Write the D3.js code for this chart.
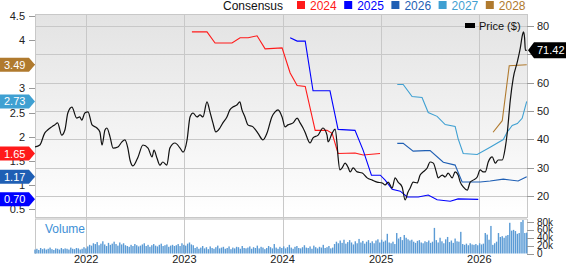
<!DOCTYPE html>
<html>
<head>
<meta charset="utf-8">
<title>EPS Consensus and Price</title>
<script src="https://d3js.org/d3.v7.min.js"></script>
<style>
  body { margin: 0; background: #fff; }
  svg { display: block; font-family: "Liberation Sans", Arial, sans-serif; }
</style>
</head>
<body>
<div id="chart"></div>
<script>
var parse = d3.timeParse("%Y-%m-%d");

// ---- data ----
var yearTicks = ["2022", "2023", "2024", "2025", "2026"];
var epsTicks = [0.5, 1, 1.5, 2, 2.5, 3, 3.5, 4, 4.5];
var priceTicks = [20, 30, 40, 50, 60, 70, 80];
var volumeTicks = [0, 20, 40, 60, 80]; // thousands

var consensusYears = ["2024", "2025", "2026", "2027", "2028"];

var eps2024 = [["2023-01-29",4.17],["2023-03-26",4.17],["2023-04-25",3.94],["2023-06-27",3.94],["2023-07-27",4.05],
  ["2023-08-26",4.05],["2023-09-28",4.09],["2023-10-28",3.82],["2023-12-30",3.84],["2024-01-29",3.32],
  ["2024-02-24",3.06],["2024-03-25",3.04],["2024-05-01",2.13],["2024-06-14",2.13],["2024-07-03",2.07],
  ["2024-07-25",1.65],["2024-09-26",1.66],["2024-10-26",1.62],["2024-12-28",1.65]];
var eps2025 = [["2024-01-29",4.05],["2024-02-24",3.98],["2024-03-25",3.98],["2024-04-23",2.95],["2024-06-25",2.95],
  ["2024-07-25",2.15],["2024-09-26",2.13],["2024-10-26",1.72],["2024-11-26",1.20],["2024-12-29",1.20],
  ["2025-01-16",1.10],["2025-02-11",0.91],["2025-03-13",0.87],["2025-04-08",0.75],["2025-05-19",0.75],
  ["2025-06-25",0.79],["2025-07-28",0.69],["2025-09-15",0.66],["2025-10-14",0.71],["2025-12-28",0.70]];
var eps2026 = [["2025-03-02",1.86],["2025-03-24",1.86],["2025-04-30",1.70],["2025-06-14",1.71],["2025-07-02",1.71],
  ["2025-08-20",1.47],["2025-10-03",1.41],["2025-10-29",1.06],["2026-01-04",1.06],["2026-02-10",1.08],
  ["2026-03-31",1.12],["2026-05-25",1.08],["2026-06-26",1.17]];
var eps2027 = [["2025-03-02",3.08],["2025-03-24",3.08],["2025-04-26",2.83],["2025-06-02",2.81],["2025-06-25",2.50],
  ["2025-07-28",2.42],["2025-08-27",2.25],["2025-10-03",2.21],["2025-10-14",1.96],["2025-11-02",1.65],
  ["2025-12-24",1.63],["2026-02-10",1.78],["2026-03-31",1.94],["2026-04-14",2.09],["2026-05-03",2.23],
  ["2026-05-22",2.27],["2026-06-09",2.38],["2026-06-26",2.73]];
var eps2028 = [["2026-02-21",2.09],["2026-03-27",2.33],["2026-04-22",3.47],["2026-06-26",3.49]];

var price = [["2021-06-25",37.3],["2021-07-13",38.0],["2021-07-31",42.2],["2021-08-11",43.3],["2021-08-26",44.4],
  ["2021-09-06",45.1],["2021-09-17",45.8],["2021-10-02",41.5],["2021-10-14",43.3],["2021-10-25",49.3],
  ["2021-11-09",51.4],["2021-11-27",47.5],["2021-12-08",47.9],["2021-12-16",46.8],["2021-12-27",49.3],
  ["2022-01-08",49.7],["2022-01-23",45.1],["2022-02-10",44.0],["2022-02-21",42.6],["2022-03-01",38.0],
  ["2022-03-12",43.3],["2022-03-19",44.0],["2022-03-31",40.8],["2022-04-11",36.9],["2022-04-29",37.3],
  ["2022-05-14",39.1],["2022-05-25",39.8],["2022-06-05",36.9],["2022-06-13",32.7],["2022-06-24",30.6],
  ["2022-07-13",33.8],["2022-07-31",38.0],["2022-08-19",36.9],["2022-09-03",33.8],["2022-09-10",36.2],
  ["2022-09-21",33.4],["2022-10-02",30.9],["2022-10-13",32.0],["2022-10-28",30.9],["2022-11-08",36.9],
  ["2022-11-27",38.7],["2022-12-16",36.9],["2022-12-27",35.5],
  ["2023-01-11",39.8],["2023-01-22",47.9],["2023-02-02",49.3],["2023-02-17",47.9],["2023-02-28",48.6],
  ["2023-03-11",47.9],["2023-03-26",53.2],["2023-04-06",49.7],["2023-04-17",45.8],["2023-04-28",42.6],
  ["2023-05-13",44.0],["2023-05-24",45.8],["2023-06-08",47.9],["2023-06-19",50.4],["2023-06-30",51.4],
  ["2023-07-15",52.1],["2023-07-26",53.2],["2023-08-03",50.4],["2023-08-14",47.9],["2023-08-25",45.1],
  ["2023-09-13",44.4],["2023-10-01",42.2],["2023-10-20",39.8],["2023-11-04",42.2],["2023-11-22",47.9],
  ["2023-12-04",49.7],["2023-12-15",50.4],["2023-12-30",47.9],
  ["2024-01-10",44.4],["2024-01-21",45.1],["2024-02-09",45.8],["2024-02-24",47.5],["2024-03-06",45.8],
  ["2024-03-17",44.0],["2024-03-24",42.6],["2024-04-12",38.7],["2024-04-23",40.5],["2024-05-12",41.5],
  ["2024-05-30",44.0],["2024-06-14",41.5],["2024-06-18",39.1],["2024-07-03",42.2],["2024-07-14",43.6],
  ["2024-07-21",38.7],["2024-07-25",33.8],["2024-08-01",29.2],["2024-08-09",29.9],["2024-08-20",31.6],
  ["2024-08-31",30.2],["2024-09-08",28.5],["2024-09-19",29.9],["2024-10-04",28.5],["2024-10-23",28.1],
  ["2024-11-10",26.4],["2024-11-29",25.6],["2024-12-17",24.9],
  ["2025-01-05",24.6],["2025-01-16",23.9],["2025-01-27",24.9],["2025-02-11",22.8],["2025-02-22",26.4],
  ["2025-03-05",24.9],["2025-03-20",23.2],["2025-03-31",18.6],["2025-04-11",21.4],["2025-04-19",22.8],
  ["2025-04-30",24.9],["2025-05-15",24.6],["2025-05-26",27.4],["2025-06-06",28.5],["2025-06-21",29.9],
  ["2025-07-02",32.0],["2025-07-14",31.6],["2025-07-25",28.5],["2025-08-01",26.4],["2025-08-16",27.4],
  ["2025-08-27",26.7],["2025-09-07",28.1],["2025-09-22",26.4],["2025-10-03",28.5],["2025-10-14",27.4],
  ["2025-10-22",24.9],["2025-11-02",23.2],["2025-11-17",22.1],["2025-11-28",24.9],["2025-12-09",25.6],
  ["2025-12-24",26.7],
  ["2026-01-04",29.2],["2026-01-15",28.5],["2026-01-23",28.5],["2026-02-03",32.0],["2026-02-18",33.8],
  ["2026-03-01",31.6],["2026-03-12",32.7],["2026-03-27",32.7],["2026-04-07",36.9],["2026-04-15",42.6],
  ["2026-04-26",53.9],["2026-05-07",61.7],["2026-05-22",67.3],["2026-06-02",72.2],["2026-06-10",76.8],
  ["2026-06-14",77.9],["2026-06-18",75.8],["2026-06-21",71.5],["2026-06-26",71.42]];

// weekly volume in thousands, first week starting volumeStart
var volumeStart = "2021-06-25";
var volumeK = [
  10,12,9,14,11,13,10,12,15,11,9,13,12,10,14,11,13,12,10,15,12,11,14,13,10,12,16,13,
  18,22,20,26,24,29,21,25,31,23,19,27,22,25,30,24,20,28,23,26,21,19,
  17,22,19,24,21,18,20,23,26,19,22,17,21,24,20,18,22,25,19,21,23,17,20,22,19,
  21,24,19,26,22,20,25,28,23,21,
  14,17,12,15,19,13,16,11,18,14,12,16,20,13,15,17,12,14,18,11,15,13,17,16,12,19,14,13,15,18,
  12,16,14,20,13,17,15,11,14,19,16,13,24,15,12,17,14,18,13,16,
  22,15,12,17,19,14,13,16,21,15,14,18,12,20,16,13,17,15,22,14,16,19,13,15,
  24,30,26,33,27,35,25,29,34,28,23,31,26,37,28,32,25,30,34,27,31,26,33,36,28,35,30,33,50,28,
  26,30,24,52,
  38,42,34,47,40,36,33,35,
  30,27,32,34,28,26,31,29,33,27,30,
  65,
  34,28,40,31,26,36,42,29,33,27,38,31,
  30,55,
  24,22,25,21,26,23,22,
  24,21,26,23,25,
  52,48,35,70,22,26,30,52,42,44,40,45,47,78,58,60,57,50,52,80,85,52,53];

// ---- layout ----
var W = 568, H = 264;
var plotLeft = 35, plotRight = 527, plotTop = 14, priceBottom = 217, volTop = 219, volBottom = 254;

var palette = {"2024": "#ff1a1a", "2025": "#0000ff", "2026": "#1f5fb4", "2027": "#3fa0d2", "2028": "#b07a2e"};
var series = [eps2024, eps2025, eps2026, eps2027, eps2028].map(function (s, i) {
  return { year: consensusYears[i], points: s.map(function (d) { return { date: parse(d[0]), v: d[1] }; }) };
});
var priceData = price.map(function (d) { return { date: parse(d[0]), v: d[1] }; });
var volumeData = volumeK.map(function (v, i) {
  return { date: d3.timeDay.offset(parse(volumeStart), i * 7), v: v };
});

var x = d3.scaleTime().domain([parse("2021-06-25"), parse("2026-06-27")]).range([plotLeft, plotRight]);
var yEps = d3.scaleLinear().domain([0.5, 4.5]).range([209, 16]);
var yPrice = d3.scaleLinear().domain([20, 80]).range([196, 26]);
var yVol = d3.scaleLinear().domain([0, 80]).range([253.5, 222]);

// badge centres, used to leave out tick labels that sit fully under a badge
var badgeY = series.map(function (s) { return yEps(s.points[s.points.length - 1].v); });
var lastPrice = priceData[priceData.length - 1];
var py = yPrice(lastPrice.v);

var svg = d3.select("#chart").append("svg").attr("width", W).attr("height", H);

var defs = svg.append("defs");
var grad = defs.append("linearGradient").attr("id", "bg").attr("x1", 0).attr("y1", 0).attr("x2", 0).attr("y2", 1);
grad.append("stop").attr("offset", "0%").attr("stop-color", "#e3e3e3");
grad.append("stop").attr("offset", "100%").attr("stop-color", "#ffffff");
defs.append("clipPath").attr("id", "clip").append("rect")
  .attr("x", plotLeft).attr("y", plotTop).attr("width", plotRight - plotLeft).attr("height", priceBottom - plotTop);

// panels
svg.append("rect").attr("x", plotLeft).attr("y", plotTop).attr("width", plotRight - plotLeft).attr("height", priceBottom - plotTop)
  .attr("fill", "url(#bg)");
svg.append("rect").attr("x", plotLeft).attr("y", priceBottom).attr("width", plotRight - plotLeft).attr("height", volTop - priceBottom + 1)
  .attr("fill", "#dcdcdc");

// grid
var gridColor = "#c8c8c8";
svg.append("g").selectAll("line").data(priceTicks).join("line")
  .attr("x1", plotLeft).attr("x2", plotRight)
  .attr("y1", function (d) { return Math.round(yPrice(d)) + 0.5; })
  .attr("y2", function (d) { return Math.round(yPrice(d)) + 0.5; })
  .attr("stroke", gridColor);
svg.append("g").selectAll("line").data(yearTicks).join("line")
  .attr("x1", function (d) { return Math.round(x(parse(d + "-01-01"))) + 0.5; })
  .attr("x2", function (d) { return Math.round(x(parse(d + "-01-01"))) + 0.5; })
  .attr("y1", plotTop).attr("y2", volBottom)
  .attr("stroke", gridColor);
// borders
svg.append("rect").attr("x", plotLeft + 0.5).attr("y", plotTop + 0.5).attr("width", plotRight - plotLeft).attr("height", priceBottom - plotTop)
  .attr("fill", "none").attr("stroke", gridColor);
svg.append("line").attr("x1", plotLeft + 0.5).attr("x2", plotLeft + 0.5).attr("y1", volTop).attr("y2", volBottom).attr("stroke", gridColor);
svg.append("line").attr("x1", plotRight + 0.5).attr("x2", plotRight + 0.5).attr("y1", volTop).attr("y2", volBottom).attr("stroke", gridColor);

// volume bars
svg.append("g").selectAll("rect").data(volumeData).join("rect")
  .attr("x", function (d) { return x(d.date) - 0.7; })
  .attr("width", 1.4)
  .attr("y", function (d) { return yVol(d.v); })
  .attr("height", function (d) { return yVol(0) - yVol(d.v); })
  .attr("fill", "#5b9bd5");
svg.append("text").attr("x", 45).attr("y", 233).attr("font-size", 12).attr("fill", "#3d8fd6").text("Volume");

// consensus lines
var plot = svg.append("g").attr("clip-path", "url(#clip)");
var epsLine = d3.line().x(function (d) { return x(d.date); }).y(function (d) { return yEps(d.v); });
plot.selectAll("path.eps").data(series).join("path")
  .attr("class", "eps")
  .attr("d", function (s) { return epsLine(s.points); })
  .attr("fill", "none")
  .attr("stroke", function (s) { return palette[s.year]; })
  .attr("stroke-width", 1.1);

// price line
var priceLine = d3.line().x(function (d) { return x(d.date); }).y(function (d) { return yPrice(d.v); })
  .curve(d3.curveMonotoneX);
plot.append("path").attr("d", priceLine(priceData))
  .attr("fill", "none").attr("stroke", "#111").attr("stroke-width", 1.2);

// left axis (EPS)
var leftAxis = svg.append("g").attr("font-size", 11).attr("fill", "#222");
leftAxis.selectAll("line").data(epsTicks).join("line")
  .attr("x1", 29).attr("x2", 35)
  .attr("y1", function (d) { return Math.round(yEps(d)) + 0.5; })
  .attr("y2", function (d) { return Math.round(yEps(d)) + 0.5; })
  .attr("stroke", "#999");
leftAxis.selectAll("text")
  .data(epsTicks.filter(function (d) {
    return badgeY.every(function (b) { return Math.abs(yEps(d) - b) > 4; });
  }))
  .join("text")
  .attr("x", 25).attr("y", function (d) { return yEps(d) + 4; })
  .attr("text-anchor", "end")
  .text(function (d) { return d; });

// right axis (price + volume)
var rightAxis = svg.append("g").attr("font-size", 11).attr("fill", "#222");
rightAxis.selectAll("line.p").data(priceTicks).join("line").attr("class", "p")
  .attr("x1", plotRight).attr("x2", 534)
  .attr("y1", function (d) { return Math.round(yPrice(d)) + 0.5; })
  .attr("y2", function (d) { return Math.round(yPrice(d)) + 0.5; })
  .attr("stroke", "#999");
rightAxis.selectAll("text.p")
  .data(priceTicks.filter(function (d) { return Math.abs(yPrice(d) - py) > 6; }))
  .join("text").attr("class", "p")
  .attr("x", 537).attr("y", function (d) { return yPrice(d) + 4; })
  .text(function (d) { return d; });
rightAxis.selectAll("line.v").data(volumeTicks).join("line").attr("class", "v")
  .attr("x1", plotRight).attr("x2", 534)
  .attr("y1", function (d) { return Math.round(yVol(d)) + 0.5; })
  .attr("y2", function (d) { return Math.round(yVol(d)) + 0.5; })
  .attr("stroke", "#999");
rightAxis.selectAll("text.v").data(volumeTicks).join("text").attr("class", "v")
  .attr("x", 537).attr("y", function (d) { return yVol(d) + 3.5; })
  .attr("font-size", 10)
  .text(function (d) { return d === 0 ? "0" : d + "k"; });

// x axis
svg.append("g").attr("font-size", 11).attr("fill", "#222").selectAll("text").data(yearTicks).join("text")
  .attr("x", function (d) { return x(parse(d + "-01-01")); })
  .attr("y", 263)
  .attr("text-anchor", "middle")
  .text(function (d) { return d; });

// left badges with the latest consensus value
var badges = svg.append("g");
series.forEach(function (s, i) {
  var last = s.points[s.points.length - 1];
  var cy = badgeY[i];
  badges.append("path")
    .attr("d", "M0," + (cy - 7) + "H29L35," + cy + "L29," + (cy + 7) + "H0Z")
    .attr("fill", palette[s.year]);
  badges.append("text").attr("x", 4).attr("y", cy + 4).attr("font-size", 11).attr("fill", "#fff")
    .text(d3.format(".2f")(last.v));
});

// right price badge
svg.append("path")
  .attr("d", "M528," + py + "L534," + (py - 8) + "H566V" + (py + 8) + "H534Z")
  .attr("fill", "#000");
svg.append("text").attr("x", 537).attr("y", py + 4).attr("font-size", 11).attr("fill", "#fff")
  .text(d3.format(".2f")(lastPrice.v));

// legends
svg.append("text").attr("x", 223).attr("y", 10).attr("font-size", 12).attr("fill", "#111").text("Consensus");
var leg = svg.append("g").selectAll("g").data(consensusYears).join("g")
  .attr("transform", function (d, i) { return "translate(" + (297 + i * 47.2) + ",0)"; });
leg.append("rect").attr("x", 0).attr("y", 1).attr("width", 8).attr("height", 8)
  .attr("fill", function (d) { return palette[d]; });
leg.append("text").attr("x", 13).attr("y", 10).attr("font-size", 12)
  .attr("fill", function (d) { return palette[d]; })
  .text(function (d) { return d; });

svg.append("rect").attr("x", 465).attr("y", 23).attr("width", 10).attr("height", 5).attr("fill", "#000");
svg.append("text").attr("x", 479).attr("y", 29.5).attr("font-size", 11).attr("fill", "#111").text("Price ($)");
</script>
</body>
</html>
